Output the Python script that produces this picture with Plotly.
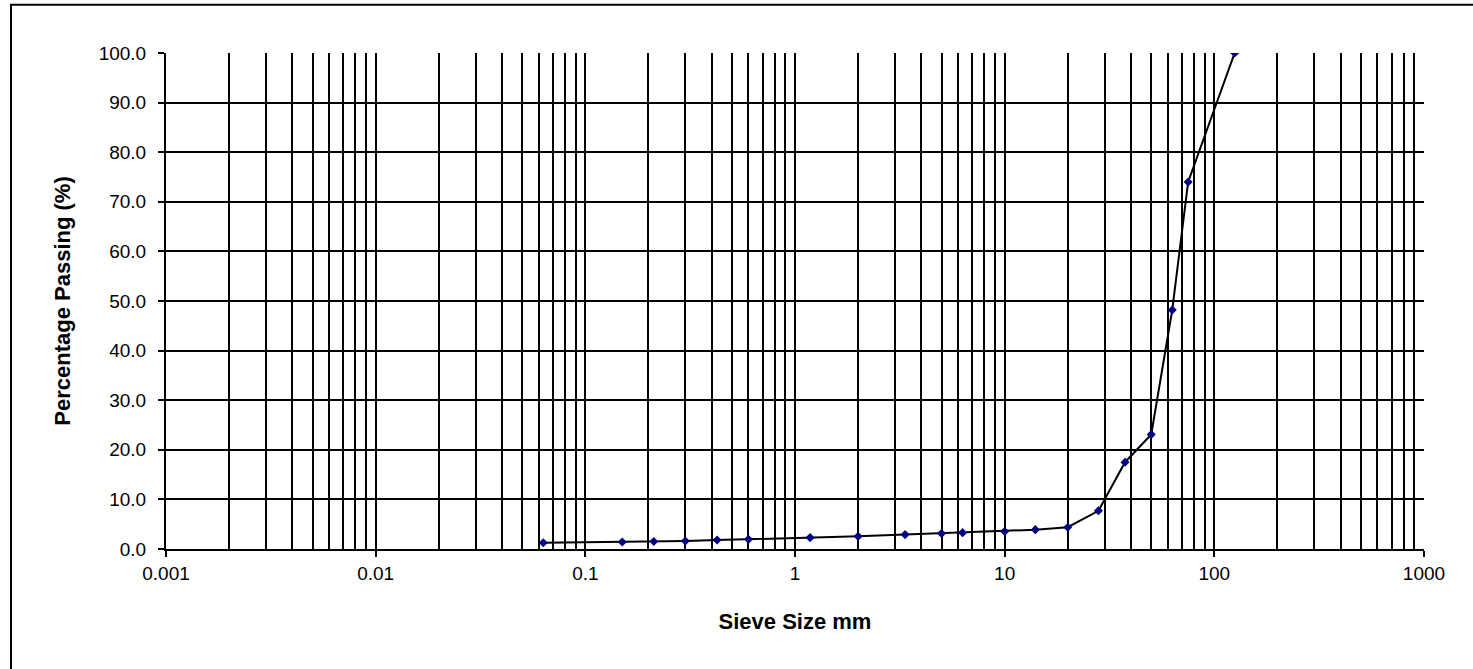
import plotly.graph_objects as go

sieve_mm = [0.063, 0.15, 0.212, 0.3, 0.425, 0.6, 1.18, 2, 3.35, 5, 6.3, 10, 14, 20, 28, 37.5, 50, 63, 75, 125]
passing = [1.25, 1.4, 1.5, 1.6, 1.8, 1.95, 2.3, 2.55, 2.9, 3.15, 3.3, 3.55, 3.9, 4.4, 7.7, 17.5, 23.1, 48.2, 74.0, 100.0]

decade_vals = [0.001, 0.01, 0.1, 1, 10, 100, 1000]
decade_text = ["0.001", "0.01", "0.1", "1", "10", "100", "1000"]

fig = go.Figure()
fig.add_trace(go.Scatter(
    x=sieve_mm, y=passing, mode="lines+markers",
    line=dict(color="black", width=2),
    marker=dict(symbol="diamond", size=7, color="#000080"),
    showlegend=False,
))

font = "Liberation Sans, Arial, sans-serif"
fig.update_layout(
    width=1473, height=669,
    margin=dict(l=166, r=49, t=53, b=120),
    paper_bgcolor="white", plot_bgcolor="white",
    font=dict(family=font, size=19, color="black"),
    xaxis=dict(
        type="log", range=[-3, 3],
        tickvals=decade_vals, ticktext=decade_text,
        ticks="outside", ticklen=6, tickwidth=2, tickcolor="black",
        showgrid=True, gridcolor="black", gridwidth=2,
        minor=dict(dtick="D1", showgrid=True, gridcolor="black", gridwidth=2, ticks=""),
        showline=True, linecolor="black", linewidth=2,
        zeroline=False,
        title=dict(text="<b>Sieve Size mm</b>", font=dict(size=22), standoff=31),
        tickfont=dict(size=19),
    ),
    yaxis=dict(
        range=[0, 100], dtick=10, tickformat=".1f",
        ticks="outside", ticklen=6, tickwidth=2, tickcolor="black",
        showgrid=True, gridcolor="black", gridwidth=2,
        showline=True, linecolor="black", linewidth=2,
        zeroline=False, ticklabelstandoff=8,
        title=dict(text="<b>Percentage Passing (%)</b>", font=dict(size=22), standoff=22),
        tickfont=dict(size=19),
    ),
    shapes=[dict(type="rect", xref="paper", yref="paper",
                 x0=-0.1232, x1=1.2, y0=-0.5, y1=1.0974,
                 line=dict(color="black", width=2), layer="above")],
)

fig.write_html("out.html", config={"displayModeBar": False},
               post_script="document.body.style.margin='0';document.body.style.overflow='hidden';")
